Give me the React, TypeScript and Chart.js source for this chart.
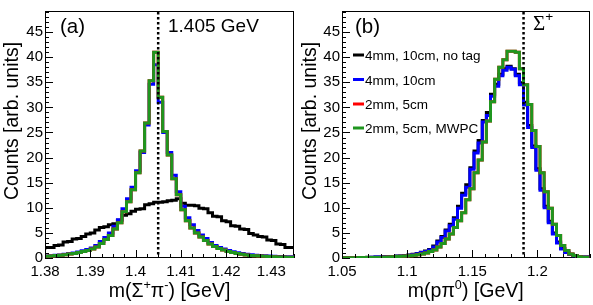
import React, { useEffect, useRef } from 'react';
import { Chart, registerables } from 'chart.js';

Chart.register(...registerables);

const SANS = '"Liberation Sans", Arial, Helvetica, sans-serif';
const SERIF = '"Liberation Serif", "Times New Roman", serif';

// ---------- Panel (a): m(Sigma+ pi-) ----------
const aRange = [1.38, 1.435];
const aBinWidth = 0.001;
const aXTicks = [1.38, 1.39, 1.4, 1.41, 1.42, 1.43];
const aXLabels = ['1.38', '1.39', '1.4', '1.41', '1.42', '1.43'];
const aBlack = [
  1.7, 2.1, 2.1, 2.5, 2.6, 3.2, 3.3, 3.8, 3.9, 4.3,
  4.8, 5.0, 5.6, 6.1, 6.2, 6.6, 6.8, 7.5, 8.5, 8.8,
  9.3, 9.7, 9.8, 10.6, 10.8, 11.1, 11.1, 11.2, 11.4, 11.5,
  11.8, 10.9, 10.5, 10.5, 10.4, 9.9, 9.8, 9.0, 8.3, 8.2,
  7.4, 7.2, 6.4, 6.3, 5.8, 5.7, 4.9, 4.6, 4.3, 4.2,
  3.6, 3.5, 2.8, 2.7, 2.1,
];
const aBlue = [
  0.35, 0.4, 0.45, 0.55, 0.6, 0.75, 0.9, 1.0, 1.2, 1.45,
  1.7, 2.0, 2.5, 3.3, 4.1, 5.0, 6.3, 7.6, 9.8, 11.8,
  14.1, 17.4, 21.0, 26.5, 34.6, 38.5, 31.0, 25.0, 21.0, 16.5,
  13.2, 10.3, 8.0, 6.6, 5.5, 4.6, 3.9, 3.1, 2.5, 2.1,
  1.8, 1.5, 1.25, 1.05, 0.9, 0.75, 0.65, 0.55, 0.5, 0.45,
  0.4, 0.35, 0.3, 0.3, 0.25,
];
const aRed = [
  0.3, 0.35, 0.4, 0.5, 0.55, 0.65, 0.8, 0.9, 1.1, 1.3,
  1.5, 1.8, 2.2, 2.9, 3.7, 4.5, 5.8, 7.0, 9.2, 11.2,
  13.6, 17.0, 21.3, 26.9, 35.3, 41.0, 32.0, 25.2, 20.5, 15.8,
  12.6, 9.6, 7.4, 6.0, 5.0, 4.2, 3.5, 2.8, 2.3, 1.9,
  1.6, 1.3, 1.1, 0.9, 0.75, 0.6, 0.5, 0.45, 0.4, 0.35,
  0.3, 0.25, 0.2, 0.2, 0.15,
];
const aGreen = [
  0.3, 0.35, 0.4, 0.5, 0.55, 0.65, 0.8, 0.9, 1.1, 1.3,
  1.5, 1.8, 2.2, 2.9, 3.7, 4.5, 5.8, 7.0, 9.2, 11.2,
  13.6, 17.0, 21.3, 26.9, 35.3, 41.0, 32.0, 25.2, 20.5, 15.8,
  12.6, 9.6, 7.4, 6.0, 5.0, 4.2, 3.5, 2.8, 2.3, 1.9,
  1.6, 1.3, 1.1, 0.9, 0.75, 0.6, 0.5, 0.45, 0.4, 0.35,
  0.3, 0.25, 0.2, 0.2, 0.15,
];
const aMarker = 1.405;

// ---------- Panel (b): m(p pi0) ----------
const bRange = [1.05, 1.24];
const bBinWidth = 0.19 / 60;
const bXTicks = [1.05, 1.1, 1.15, 1.2];
const bXLabels = ['1.05', '1.1', '1.15', '1.2'];
const bBlack = [
  0.05, 0.05, 0.06, 0.06, 0.08, 0.1, 0.12, 0.13, 0.15, 0.2,
  0.22, 0.25, 0.28, 0.32, 0.38, 0.42, 0.5, 0.6, 0.75, 0.9,
  1.15, 1.4, 1.7, 2.4, 3.4, 4.3, 5.6, 6.7, 8.0, 10.3,
  12.9, 14.6, 18.0, 21.3, 23.4, 27.4, 29.0, 32.6, 34.6, 36.6,
  37.7, 38.2, 37.7, 36.6, 34.9, 31.0, 26.4, 22.3, 17.8, 13.8,
  10.3, 7.3, 5.0, 3.2, 1.9, 1.2, 0.75, 0.5, 0.32, 0.2,
];
const bBlue = [
  0.05, 0.05, 0.05, 0.05, 0.08, 0.1, 0.1, 0.12, 0.15, 0.18,
  0.2, 0.22, 0.25, 0.3, 0.35, 0.4, 0.45, 0.55, 0.7, 0.85,
  1.1, 1.3, 1.6, 2.2, 3.2, 4.1, 5.4, 6.4, 7.7, 9.9,
  12.5, 14.1, 17.7, 20.9, 22.9, 27.1, 28.4, 32.2, 34.2, 36.3,
  37.4, 38.0, 37.6, 36.3, 34.5, 30.5, 26.0, 22.0, 17.5, 13.5,
  10.0, 7.0, 4.8, 3.0, 1.8, 1.1, 0.7, 0.45, 0.3, 0.2,
];
const bRed = [
  0.05, 0.05, 0.05, 0.05, 0.06, 0.08, 0.08, 0.1, 0.1, 0.1,
  0.12, 0.15, 0.2, 0.25, 0.3, 0.35, 0.4, 0.45, 0.55, 0.65,
  0.8, 1.0, 1.3, 1.6, 2.2, 2.9, 3.8, 4.8, 6.1, 7.4,
  9.0, 11.6, 13.8, 17.0, 19.5, 23.1, 27.3, 31.1, 35.6, 38.0,
  39.5, 41.2, 41.2, 41.0, 37.7, 34.5, 30.6, 25.4, 22.2, 17.0,
  13.2, 9.9, 6.7, 4.5, 2.5, 1.5, 0.8, 0.5, 0.25, 0.15,
];
const bGreen = [
  0.05, 0.05, 0.05, 0.05, 0.06, 0.08, 0.08, 0.1, 0.1, 0.1,
  0.12, 0.15, 0.2, 0.25, 0.3, 0.35, 0.4, 0.45, 0.55, 0.65,
  0.8, 1.0, 1.3, 1.6, 2.2, 2.9, 3.8, 4.8, 6.1, 7.4,
  9.0, 11.6, 13.8, 17.0, 19.5, 23.1, 27.3, 31.1, 35.6, 38.0,
  39.5, 41.2, 41.2, 41.0, 37.7, 34.5, 30.6, 25.4, 22.2, 17.0,
  13.2, 9.9, 6.7, 4.5, 2.5, 1.5, 0.8, 0.5, 0.25, 0.15,
];
const bMarker = 1.18937;

// ---------- shared ----------
const yMax = 49.2;
const yTicks = [0, 5, 10, 15, 20, 25, 30, 35, 40, 45];
const seriesNames = ['4mm, 10cm, no tag', '4mm, 10cm', '2mm, 5cm', '2mm, 5cm, MWPC'];
const seriesColors = ['#000000', '#0000ff', '#ff0000', '#1f961f'];

type Seg = { t: string; sup?: boolean; font?: string };

function drawRich(ctx: CanvasRenderingContext2D, segs: Seg[], x: number, y: number, size: number, align: 'left' | 'center') {
  const fs = (s: Seg) => (s.sup ? size * 0.65 : size);
  let w = 0;
  for (const s of segs) {
    ctx.font = `${fs(s)}px ${s.font || SANS}`;
    w += ctx.measureText(s.t).width;
  }
  let cx = align === 'center' ? x - w / 2 : x;
  ctx.textAlign = 'left';
  ctx.textBaseline = 'alphabetic';
  for (const s of segs) {
    ctx.font = `${fs(s)}px ${s.font || SANS}`;
    ctx.fillText(s.t, cx, s.sup ? y - size * 0.42 : y);
    cx += ctx.measureText(s.t).width;
  }
}

function histPoints(start: number, width: number, vals: number[]) {
  const pts = vals.map((v, i) => ({ x: start + i * width, y: v }));
  pts.push({ x: start + vals.length * width, y: vals[vals.length - 1] });
  return pts;
}

type PanelCfg = {
  left: number;
  width: number;
  padRight: number;
  range: number[];
  binWidth: number;
  xTicks: number[];
  xLabels: string[];
  minorStep: number;
  series: number[][];
  marker: number;
  xTitle: Seg[];
  yTitleX: number;
  tag: string;
  tagX: number;
  markerLabel: Seg[];
  markerLabelX: number;
  markerLabelY: number;
  markerLabelSize: number;
  legend: boolean;
};

function makeDecor(cfg: PanelCfg) {
  return {
    id: 'decor',
    beforeDatasetsDraw(chart: any) {
      const { ctx, chartArea: a } = chart;
      ctx.save();
      ctx.strokeStyle = '#000';
      ctx.lineWidth = 1;
      ctx.strokeRect(Math.round(a.left) + 0.5, Math.round(a.top) + 0.5, Math.round(a.right - a.left) - 1, Math.round(a.bottom - a.top) - 1);
      ctx.restore();
    },
    afterDatasetsDraw(chart: any) {
      const { ctx, chartArea: a, scales } = chart;
      const xs = scales.x;
      const ys = scales.y;
      ctx.save();
      // inward ticks
      ctx.strokeStyle = '#000';
      ctx.lineWidth = 1;
      ctx.beginPath();
      for (let v = 0; v <= yMax; v += 1) {
        const py = Math.round(ys.getPixelForValue(v)) + 0.5;
        const len = v % 5 === 0 ? 8 : 4;
        ctx.moveTo(a.left, py);
        ctx.lineTo(a.left + len, py);
      }
      const n = Math.round((cfg.range[1] - cfg.range[0]) / cfg.minorStep);
      for (let i = 0; i <= n; i++) {
        const v = cfg.range[0] + i * cfg.minorStep;
        const major = cfg.xTicks.some((t) => Math.abs(t - v) < 1e-7);
        const px = Math.round(xs.getPixelForValue(v)) + 0.5;
        ctx.moveTo(px, a.bottom);
        ctx.lineTo(px, a.bottom - (major ? 8 : 4));
      }
      ctx.stroke();

      // dotted marker line
      const mx = xs.getPixelForValue(cfg.marker);
      ctx.beginPath();
      ctx.setLineDash([2.5, 2.5]);
      ctx.lineWidth = 2.5;
      ctx.moveTo(mx, a.top + 1);
      ctx.lineTo(mx, a.bottom);
      ctx.stroke();
      ctx.setLineDash([]);

      ctx.fillStyle = '#000';
      // panel tag
      ctx.font = `20.5px ${SANS}`;
      ctx.textAlign = 'left';
      ctx.textBaseline = 'alphabetic';
      ctx.fillText(cfg.tag, cfg.tagX, 32.5);
      // marker label
      drawRich(ctx, cfg.markerLabel, cfg.markerLabelX, cfg.markerLabelY, cfg.markerLabelSize, 'left');

      // legend
      if (cfg.legend) {
        const rows = [55, 79.5, 104, 128];
        rows.forEach((ry, i) => {
          ctx.strokeStyle = seriesColors[i];
          ctx.lineWidth = 3;
          ctx.beginPath();
          ctx.moveTo(56, ry);
          ctx.lineTo(67, ry);
          ctx.stroke();
          ctx.fillStyle = '#000';
          ctx.font = `13.5px ${SANS}`;
          ctx.fillText(seriesNames[i], 68, ry + 5);
        });
      }

      // axis titles
      ctx.fillStyle = '#000';
      drawRich(ctx, cfg.xTitle, (a.left + a.right) / 2, 297, 19.5, 'center');
      ctx.translate(cfg.yTitleX, 121);
      ctx.rotate(-Math.PI / 2);
      drawRich(ctx, [{ t: 'Counts [arb. units]' }], 0, 0, 19.5, 'center');
      ctx.restore();
    },
  };
}

function Panel({ cfg }: { cfg: PanelCfg }) {
  const ref = useRef<HTMLCanvasElement>(null);
  useEffect(() => {
    if (!ref.current) return;
    const [s0, s1, s2, s3] = cfg.series;
    const mk = (vals: number[], i: number) => ({
      label: seriesNames[i],
      data: histPoints(cfg.range[0], cfg.binWidth, vals),
      borderColor: seriesColors[i],
      backgroundColor: seriesColors[i],
      borderWidth: 3,
      pointRadius: 0,
      stepped: 'after' as const,
      tension: 0,
      fill: false,
      borderJoinStyle: 'miter' as const,
      order: 4 - i,
    });
    const chart = new Chart(ref.current, {
      type: 'line',
      data: { datasets: [mk(s0, 0), mk(s1, 1), mk(s2, 2), mk(s3, 3)] },
      options: {
        animation: false,
        responsive: false,
        devicePixelRatio: 1,
        layout: { padding: { top: 4, right: cfg.padRight, left: 0, bottom: 0 } },
        plugins: { legend: { display: false }, tooltip: { enabled: false } },
        scales: {
          x: {
            type: 'linear',
            min: cfg.range[0],
            max: cfg.range[1],
            grid: { display: false, drawTicks: false },
            border: { display: false },
            afterBuildTicks: (scale: any) => {
              scale.ticks = cfg.xTicks.map((v) => ({ value: v }));
            },
            afterFit: (scale: any) => {
              scale.height = 47;
            },
            ticks: {
              autoSkip: false,
              maxRotation: 0,
              padding: 5,
              color: '#000',
              font: { family: SANS, size: 15 },
              callback: (v: any) => {
                const idx = cfg.xTicks.findIndex((t) => Math.abs(t - Number(v)) < 1e-7);
                return idx >= 0 ? cfg.xLabels[idx] : '';
              },
            },
          },
          y: {
            type: 'linear',
            min: 0,
            max: yMax,
            grid: { display: false, drawTicks: false },
            border: { display: false },
            afterBuildTicks: (scale: any) => {
              scale.ticks = yTicks.map((v) => ({ value: v }));
            },
            afterFit: (scale: any) => {
              scale.width = 45;
            },
            ticks: {
              autoSkip: false,
              padding: 2,
              color: '#000',
              font: { family: SANS, size: 15 },
              callback: (v: any) => String(v),
            },
          },
        },
      },
      plugins: [makeDecor(cfg)],
    });
    return () => chart.destroy();
  }, []);
  return (
    <canvas
      ref={ref}
      width={cfg.width}
      height={305}
      style={{ position: 'absolute', left: cfg.left, top: 0, width: cfg.width, height: 305 }}
    />
  );
}

const panelA: PanelCfg = {
  left: 0,
  width: 297,
  padRight: 3,
  range: aRange,
  binWidth: aBinWidth,
  xTicks: aXTicks,
  xLabels: aXLabels,
  minorStep: 0.0025,
  series: [aBlack, aBlue, aRed, aGreen],
  marker: aMarker,
  xTitle: [{ t: 'm(Σ' }, { t: '+', sup: true }, { t: 'π' }, { t: '-', sup: true }, { t: ') [GeV]' }],
  yTitleX: 17.5,
  tag: '(a)',
  tagX: 60,
  markerLabel: [{ t: '1.405 GeV' }],
  markerLabelX: 168,
  markerLabelY: 31.8,
  markerLabelSize: 19,
  legend: false,
};

const panelB: PanelCfg = {
  left: 297,
  width: 296,
  padRight: 3.5,
  range: bRange,
  binWidth: bBinWidth,
  xTicks: bXTicks,
  xLabels: bXLabels,
  minorStep: 0.01,
  series: [bBlack, bBlue, bRed, bGreen],
  marker: bMarker,
  xTitle: [{ t: 'm(pπ' }, { t: '0', sup: true }, { t: ') [GeV]' }],
  yTitleX: 19,
  tag: '(b)',
  tagX: 58,
  markerLabel: [{ t: 'Σ', font: SERIF }, { t: '+', sup: true }],
  markerLabelX: 236,
  markerLabelY: 30,
  markerLabelSize: 21,
  legend: true,
};

export default function App() {
  return (
    <div style={{ position: 'absolute', left: 0, top: 0, width: 593, height: 305, background: '#fff', overflow: 'hidden' }}>
      <Panel cfg={panelA} />
      <Panel cfg={panelB} />
    </div>
  );
}
